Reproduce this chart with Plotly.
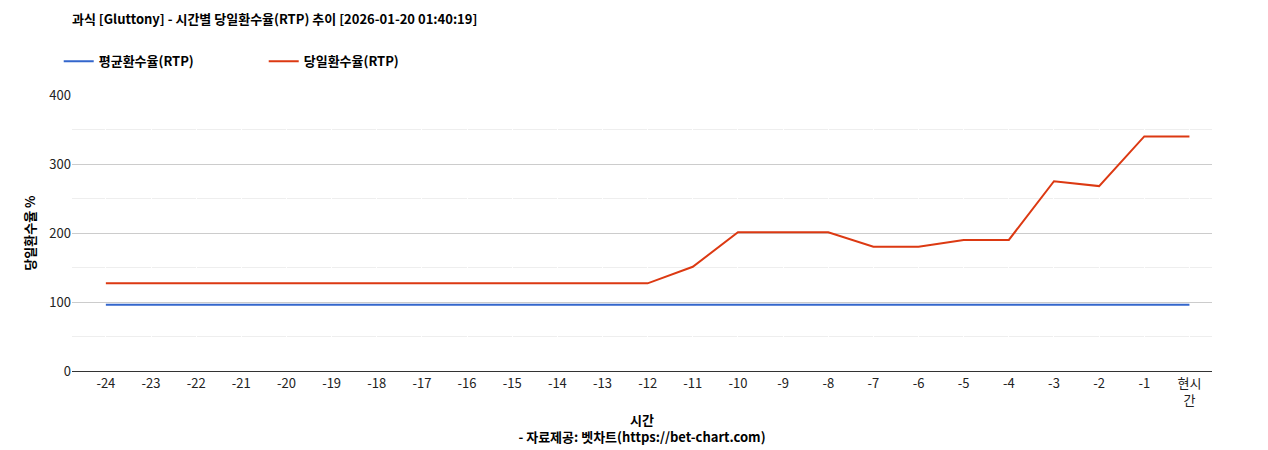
import plotly.graph_objects as go

hours = [str(h) for h in range(-24, 0)] + ["현시<br>간"]
avg_rtp = [96] * 25
day_rtp = [127] * 13 + [151, 201, 201, 201, 180, 180, 190, 190, 275, 268, 340, 340]

fig = go.Figure()
fig.add_trace(go.Scatter(x=hours, y=avg_rtp, mode="lines", name="<b>평균환수율(RTP)</b>",
                         line=dict(color="#3366cc", width=2)))
fig.add_trace(go.Scatter(x=hours, y=day_rtp, mode="lines", name="<b>당일환수율(RTP)</b>",
                         line=dict(color="#dc3912", width=2)))

fig.update_layout(
    width=1268, height=450,
    font=dict(family="Noto Sans CJK KR, Roboto, Arial", size=13, color="#222"),
    title=dict(text="<b>과식 [Gluttony] - 시간별 당일환수율(RTP) 추이 [2026-01-20 01:40:19]</b>",
               x=0.0, xref="container", y=0.985, yanchor="top", font=dict(size=13, color="#000"),
               pad=dict(l=64)),
    legend=dict(orientation="h", x=0.04, xref="container", y=0.915, yref="container", yanchor="top",
                font=dict(size=13, color="#000"), entrywidth=160),
    margin=dict(l=64, r=64, t=87, b=87, autoexpand=False),
    plot_bgcolor="white", paper_bgcolor="white",
    xaxis=dict(title=dict(text="<b>시간</b><br><b>- 자료제공: 벳차트(https://bet-chart.com)</b>", standoff=8,
                          font=dict(size=13, color="#000")),
               automargin=False, showline=True, linecolor="#333", tickfont=dict(color="#222"),
               range=[-0.75, 24.5]),
    yaxis=dict(title=dict(text="<b>당일환수율 %</b>", font=dict(size=13, color="#000"), standoff=10),
               automargin=False, range=[0, 400], tickvals=[0, 100, 200, 300, 400], gridcolor="#ccc",
               ticks="", zeroline=False,
               minor=dict(tickvals=[50, 150, 250, 350], showgrid=True, gridcolor="#eee", ticks="")),
)
fig.write_html("out.html")
